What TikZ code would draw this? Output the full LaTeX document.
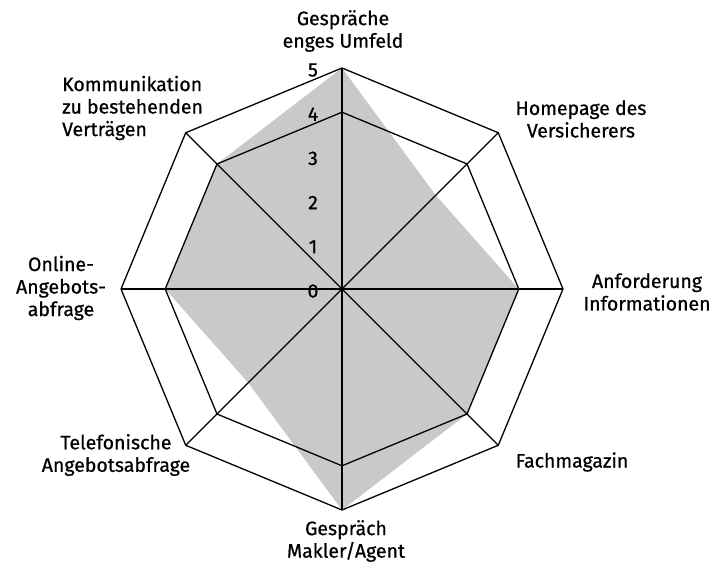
\documentclass[tikz,border=0pt]{standalone}
\usepackage{fontspec}
\usetikzlibrary{calc}
\setmainfont{Fira Sans}[FakeBold=0.7]
\definecolor{areagray}{RGB}{200,201,203}
\begin{document}
\begin{tikzpicture}[x=1pt,y=-1pt,
  gridline/.style={line width=1.3pt, line join=miter},
  lbl/.style={font=\fontsize{19.5}{22.5}\selectfont, inner sep=0pt, align=center},
  lbll/.style={font=\fontsize{19.5}{22.5}\selectfont, inner sep=0pt, align=left},
  num/.style={font=\fontsize{19.5}{22.5}\selectfont, inner sep=0pt}]
\useasboundingbox (0,0) rectangle (728,562);
\coordinate (c) at (342,289);
% data polygon
\fill[areagray] ($(c)+(-90:221)$) -- ($(c)+(-45:132.6)$) -- ($(c)+(0:176.8)$) -- ($(c)+(45:176.8)$)
  -- ($(c)+(90:221)$) -- ($(c)+(135:132.6)$) -- ($(c)+(180:176.8)$) -- ($(c)+(225:176.8)$) -- cycle;
% octagons
\foreach \r in {176.8,221}{
  \draw[gridline] ($(c)+(-90:\r)$) -- ($(c)+(-45:\r)$) -- ($(c)+(0:\r)$) -- ($(c)+(45:\r)$)
   -- ($(c)+(90:\r)$) -- ($(c)+(135:\r)$) -- ($(c)+(180:\r)$) -- ($(c)+(225:\r)$) -- cycle;
}
% axes
\foreach \a [count=\i] in {-90,-45,0,45,90,135,180,225}{
  \coordinate (ax\i) at ($(c)+(\a:221)$);
  \draw[gridline] (c) -- (ax\i);
}
% scale numbers
\foreach \k in {0,...,5}{
  \node[num] (n\k) at (313, {291-44.2*\k}) {\k};
}
% axis labels
\node[lbl] (l1) at (343,31) {Gespräche\\enges Umfeld};
\node[lbl] (l2) at (581,119) {Homepage des\\Versicherers};
\node[lbl] (l3) at (647,292) {Anforderung\\Informationen};
\node[lbl] (l4) at (572,462) {Fachmagazin};
\node[lbl] (l5) at (346,541) {Gespräch\\Makler/Agent};
\node[lbl] (l6) at (116,455) {Telefonische\\Angebotsabfrage};
\node[lbl] (l7) at (61,288) {Online-\\Angebots-\\abfrage};
\node[lbll, anchor=west] (l8) at (62,108) {Kommunikation\\zu bestehenden\\Verträgen};
\end{tikzpicture}
\end{document}
